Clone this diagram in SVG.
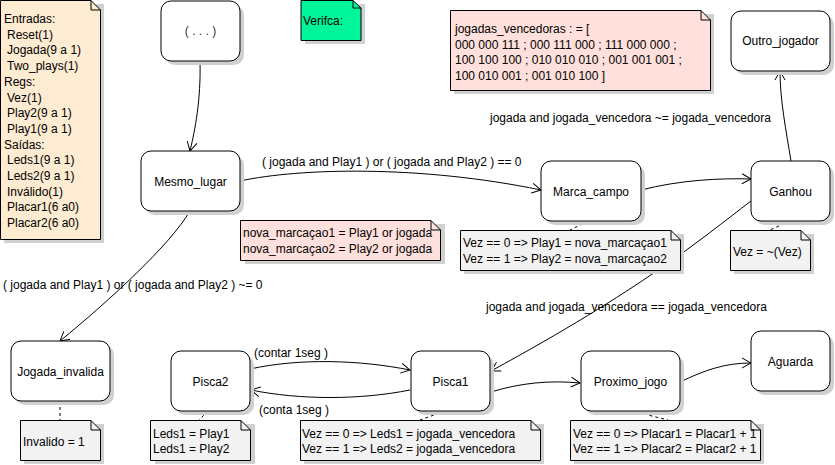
<svg xmlns="http://www.w3.org/2000/svg" width="835" height="465" viewBox="0 0 835 465">
<defs>
<style>
text{font-family:"Liberation Sans",Arial,sans-serif;font-size:12px;fill:#000}
.c{text-anchor:middle}
.node{fill:#fff;stroke:#000;stroke-width:1}
.sh{fill:#d0d0d0;stroke:none}
.note{stroke:#000;stroke-width:1}
.fold{fill:none;stroke:#000;stroke-width:1}
.conn{fill:none;stroke:#000;stroke-width:1}
.dash{fill:none;stroke:#000;stroke-width:1;stroke-dasharray:3,3}
</style>
<marker id="arr" markerUnits="userSpaceOnUse" markerWidth="12" markerHeight="12" refX="10" refY="6" orient="auto">
<path d="M1,1 L10,6 L1,11" fill="none" stroke="#000" stroke-width="1"/>
</marker>
</defs>
<rect width="835" height="465" fill="#fff"/>

<g id="connectors">
<path class="conn" d="M200,61 C201,100 195,130 190,151" marker-end="url(#arr)"/>
<path class="conn" d="M240,181 C300,168 420,165 541,190" marker-end="url(#arr)"/>
<path class="conn" d="M641,190 C680,180 720,178 751,179" marker-end="url(#arr)"/>
<path class="conn" d="M791,161 C786,130 780,100 780,71" marker-end="url(#arr)"/>
<path class="conn" d="M751,201 C700,240 640,290 491,371" marker-end="url(#arr)"/>
<path class="conn" d="M190,211 C170,245 110,300 60,341" marker-end="url(#arr)"/>
<path class="conn" d="M250,369 C300,358 360,360 410,370" marker-end="url(#arr)"/>
<path class="conn" d="M410,390 C360,400 300,400 251,390" marker-end="url(#arr)"/>
<path class="conn" d="M491,392 C520,383 550,380 580,383" marker-end="url(#arr)"/>
<path class="conn" d="M680,382 C705,370 725,363 751,363" marker-end="url(#arr)"/>
<path class="dash" d="M60,401 L60,420"/>
<path class="dash" d="M208,411 L199,420"/>
<path class="dash" d="M445,411 L420,420"/>
<path class="dash" d="M632,411 L668,420"/>
<path class="dash" d="M588,221 L570,230"/>
<path class="dash" d="M790,221 L770,230"/>
<text x="490" y="122">jogada and jogada_vencedora ~= jogada_vencedora</text>
<text x="262" y="166">( jogada and Play1 ) or ( jogada and Play2 ) == 0</text>
<text x="486" y="311">jogada and jogada_vencedora == jogada_vencedora</text>
<text x="3" y="289">( jogada and Play1 ) or ( jogada and Play2 ) ~= 0</text>
<text x="254" y="357">(contar 1seg )</text>
<text x="259" y="414">(conta 1seg )</text>
</g>

<g id="legend">
<rect class="sh" x="4" y="4" width="100" height="239"/>
<path class="note" fill="#fdebd2" d="M0.5,0.5 H91 L100.5,10 V239.5 H0.5 Z"/>
<path class="fold" d="M91,0.5 V10 H100.5"/>
<text x="4" y="23">Entradas:</text>
<text x="7" y="38.7">Reset(1)</text>
<text x="7" y="54.4">Jogada(9 a 1)</text>
<text x="7" y="70.1">Two_plays(1)</text>
<text x="4" y="85.8">Regs:</text>
<text x="7" y="101.5">Vez(1)</text>
<text x="7" y="117.2">Play2(9 a 1)</text>
<text x="7" y="132.9">Play1(9 a 1)</text>
<text x="4" y="148.6">Saídas:</text>
<text x="7" y="164.3">Leds1(9 a 1)</text>
<text x="7" y="180">Leds2(9 a 1)</text>
<text x="7" y="195.7">Inválido(1)</text>
<text x="7" y="211.4">Placar1(6 a0)</text>
<text x="7" y="227.1">Placar2(6 a0)</text>
</g>

<g id="start">
<rect class="sh" x="165" y="5" width="79" height="60" rx="10"/>
<rect class="node" x="161" y="1" width="79" height="60" rx="10"/>
<text class="c" x="200.5" y="35" style="fill:#333">( . . . )</text>
</g>

<g id="verifica">
<rect class="sh" x="305" y="4" width="60" height="40"/>
<path class="note" fill="#00f59b" d="M301,0.5 H353 L361,8 V40.5 H301 Z"/>
<path class="fold" d="M353,0.5 V8 H361"/>
<text x="303" y="25">Verifca:</text>
</g>

<g id="jogadas_note">
<rect class="sh" x="454" y="14" width="260" height="80"/>
<path class="note" fill="#ffe0dc" d="M450.5,10.5 H701 L710.5,20 V90.5 H450.5 Z"/>
<path class="fold" d="M701,10.5 V20 H710.5"/>
<text x="455" y="33">jogadas_vencedoras : = [</text>
<text x="455" y="48.5">000 000 111 ; 000 111 000 ; 111 000 000 ;</text>
<text x="455" y="64">100 100 100 ; 010 010 010 ; 001 001 001 ;</text>
<text x="455" y="79.5">100 010 001 ; 001 010 100 ]</text>
</g>

<g id="outro_jogador">
<rect class="sh" x="735" y="15" width="99" height="60" rx="10"/>
<rect class="node" x="731" y="11" width="99" height="60" rx="10"/>
<text class="c" x="780.5" y="45">Outro_jogador</text>
</g>

<g id="mesmo_lugar">
<rect class="sh" x="145" y="155" width="99" height="60" rx="10"/>
<rect class="node" x="141" y="151" width="99" height="60" rx="10"/>
<text class="c" x="190.5" y="185.5">Mesmo_lugar</text>
</g>

<g id="marca_campo">
<rect class="sh" x="545" y="165" width="100" height="60" rx="10"/>
<rect class="node" x="541" y="161" width="100" height="60" rx="10"/>
<text class="c" x="591" y="195.5">Marca_campo</text>
</g>

<g id="ganhou">
<rect class="sh" x="755" y="165" width="79" height="60" rx="10"/>
<rect class="node" x="751" y="161" width="79" height="60" rx="10"/>
<text class="c" x="790.5" y="195.5">Ganhou</text>
</g>

<g id="nova_note">
<rect class="sh" x="245" y="224" width="200" height="40"/>
<path class="note" fill="#ffe0dc" d="M240.5,220.5 H431 L440.5,230 V260.5 H240.5 Z"/>
<path class="fold" d="M431,220.5 V230 H440.5"/>
<text x="243" y="237">nova_marcaçao1 = Play1 or jogada</text>
<text x="243" y="252.5">nova_marcaçao2 = Play2 or jogada</text>
</g>

<g id="marca_note">
<rect class="sh" x="464" y="234" width="220" height="40"/>
<path class="note" fill="#f2f2f2" d="M460.5,230.5 H671 L680.5,240 V270.5 H460.5 Z"/>
<path class="fold" d="M671,230.5 V240 H680.5"/>
<text x="463" y="247">Vez == 0 =&gt; Play1 = nova_marcaçao1</text>
<text x="463" y="262.5">Vez == 1 =&gt; Play2 = nova_marcaçao2</text>
</g>

<g id="ganhou_note">
<rect class="sh" x="734" y="234" width="80" height="40"/>
<path class="note" fill="#f2f2f2" d="M730.5,230.5 H801 L810.5,240 V270.5 H730.5 Z"/>
<path class="fold" d="M801,230.5 V240 H810.5"/>
<text x="733" y="255.5">Vez = ~(Vez)</text>
</g>

<g id="jogada_invalida">
<rect class="sh" x="15" y="345" width="99" height="60" rx="10"/>
<rect class="node" x="11" y="341" width="99" height="60" rx="10"/>
<text class="c" x="60.5" y="375.5">Jogada_invalida</text>
</g>

<g id="invalido_note">
<rect class="sh" x="24" y="424" width="80" height="40"/>
<path class="note" fill="#f2f2f2" d="M20.5,420.5 H91 L100.5,430 V460.5 H20.5 Z"/>
<path class="fold" d="M91,420.5 V430 H100.5"/>
<text x="23" y="446">Invalido = 1</text>
</g>

<g id="pisca2">
<rect class="sh" x="175" y="355" width="79" height="60" rx="10"/>
<rect class="node" x="171" y="351" width="79" height="60" rx="10"/>
<text class="c" x="210.5" y="385.5">Pisca2</text>
</g>

<g id="pisca2_note">
<rect class="sh" x="155" y="424" width="100" height="40"/>
<path class="note" fill="#f2f2f2" d="M150.5,420.5 H241 L250.5,430 V460.5 H150.5 Z"/>
<path class="fold" d="M241,420.5 V430 H250.5"/>
<text x="153" y="437.5">Leds1 = Play1</text>
<text x="153" y="453">Leds1 = Play2</text>
</g>

<g id="pisca1">
<rect class="sh" x="415" y="355" width="79" height="60" rx="10"/>
<rect class="node" x="411" y="351" width="79" height="60" rx="10"/>
<text class="c" x="450.5" y="385.5">Pisca1</text>
</g>

<g id="pisca1_note">
<rect class="sh" x="304" y="424" width="240" height="40"/>
<path class="note" fill="#f2f2f2" d="M300.5,420.5 H531 L540.5,430 V460.5 H300.5 Z"/>
<path class="fold" d="M531,420.5 V430 H540.5"/>
<text x="302" y="437.5">Vez == 0 =&gt; Leds1 = jogada_vencedora</text>
<text x="302" y="453">Vez == 1 =&gt; Leds2 = jogada_vencedora</text>
</g>

<g id="proximo_jogo">
<rect class="sh" x="585" y="355" width="99" height="60" rx="10"/>
<rect class="node" x="581" y="351" width="99" height="60" rx="10"/>
<text class="c" x="630.5" y="385.5">Proximo_jogo</text>
</g>

<g id="proximo_note">
<rect class="sh" x="574" y="424" width="190" height="40"/>
<path class="note" fill="#f2f2f2" d="M570.5,420.5 H751 L760.5,430 V460.5 H570.5 Z"/>
<path class="fold" d="M751,420.5 V430 H760.5"/>
<text x="573" y="437.5">Vez == 0 =&gt; Placar1 = Placar1 + 1</text>
<text x="573" y="453">Vez == 1 =&gt; Placar2 = Placar2 + 1</text>
</g>

<g id="aguarda">
<rect class="sh" x="755" y="335" width="79" height="60" rx="10"/>
<rect class="node" x="751" y="331" width="79" height="60" rx="10"/>
<text class="c" x="790.5" y="365.5">Aguarda</text>
</g>
</svg>
